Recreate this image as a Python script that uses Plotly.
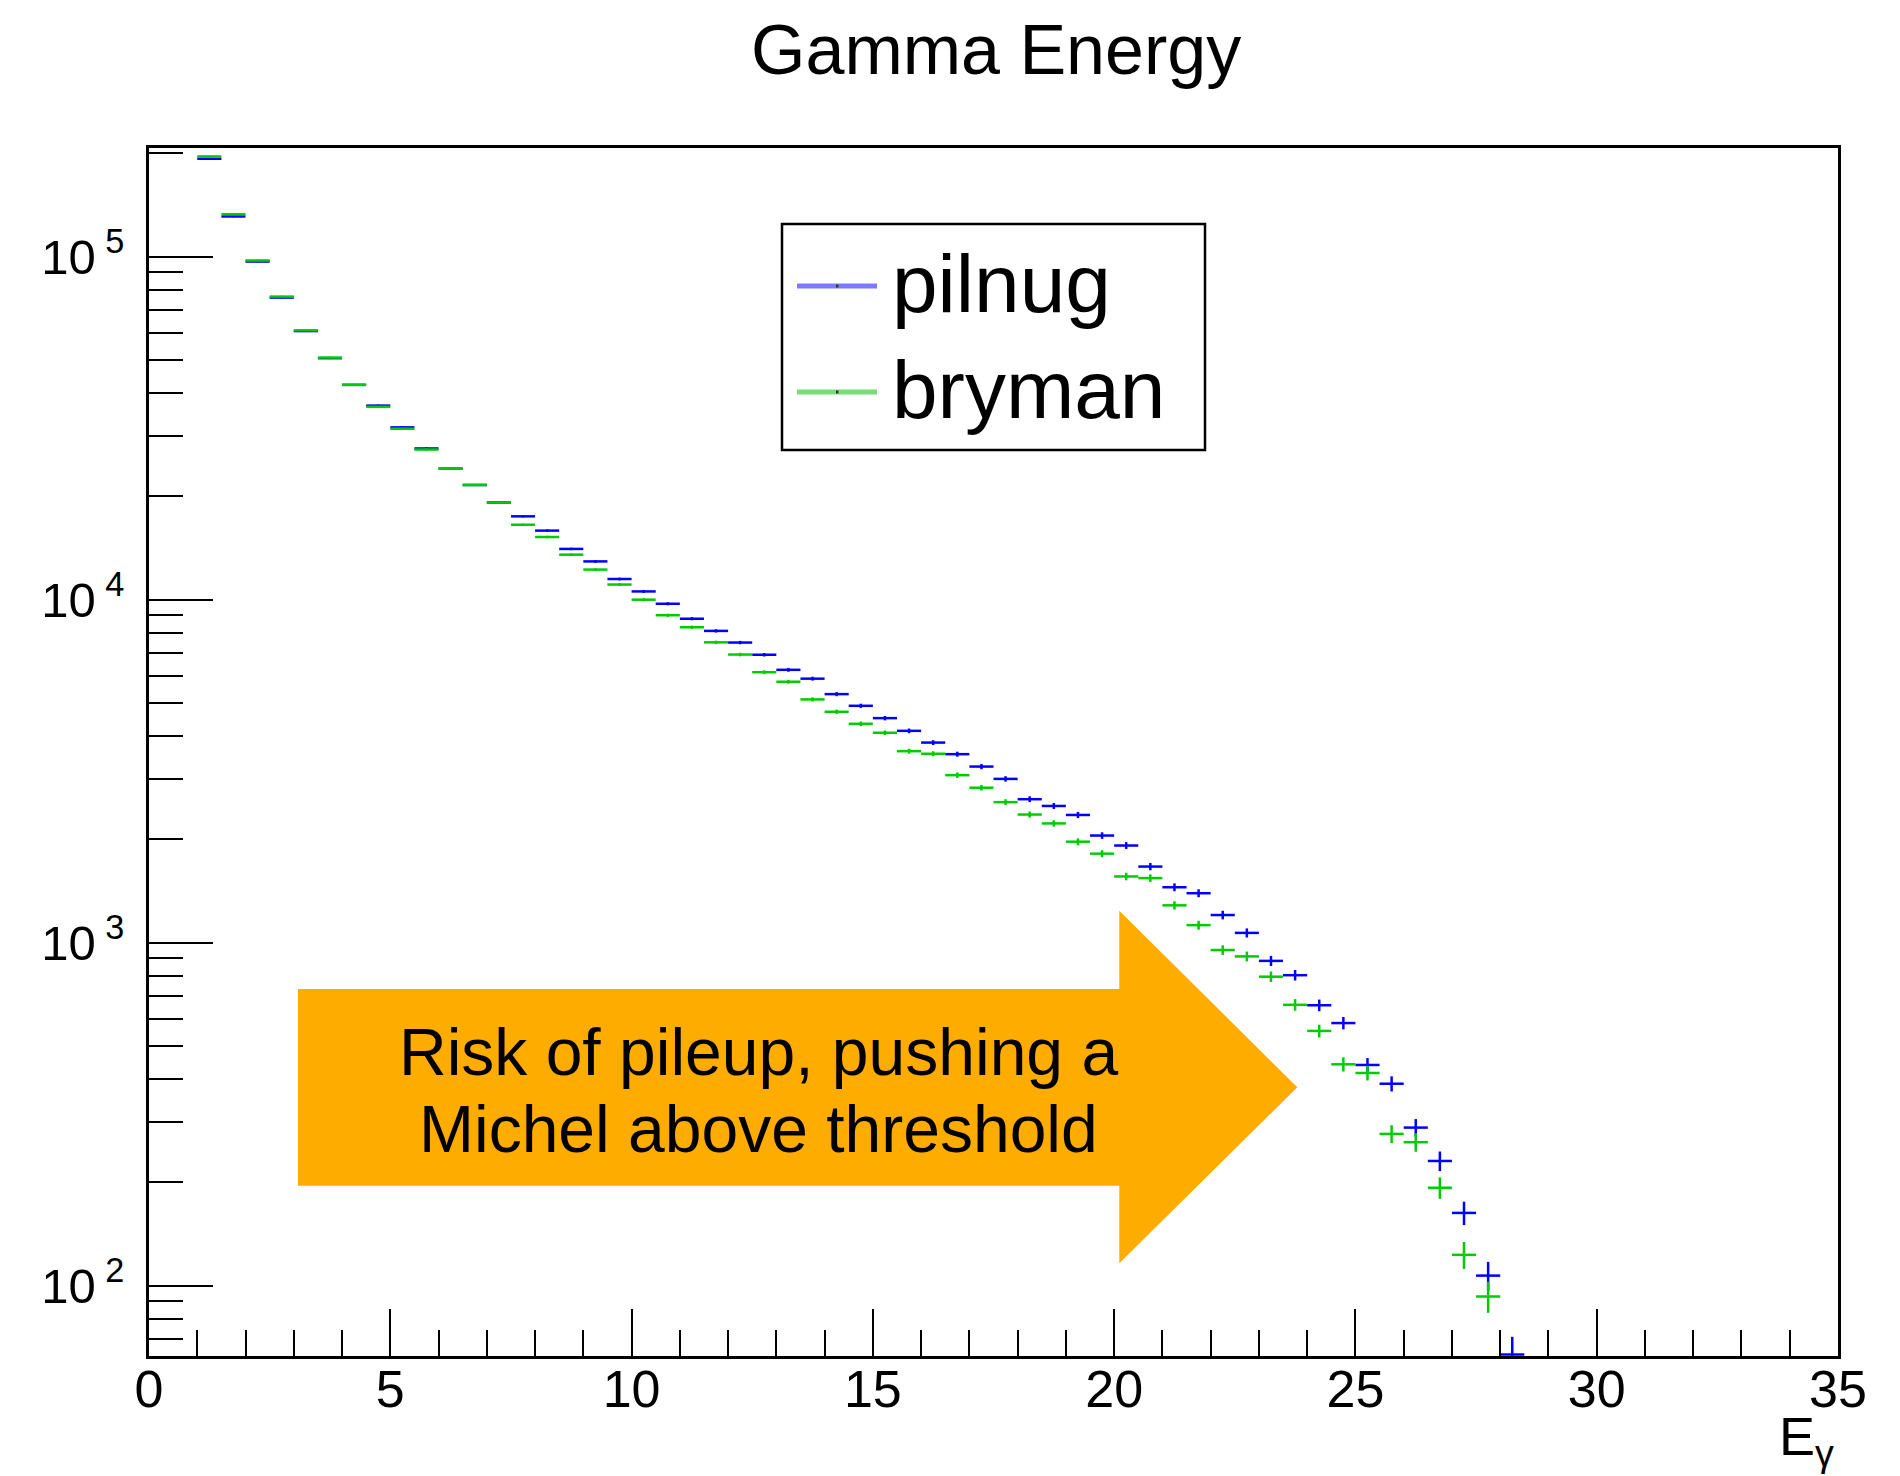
import plotly.graph_objects as go

# Bin centres (bin width 0.5) and bin contents for the two generators
e_centers = [1.25, 1.75, 2.25, 2.75, 3.25, 3.75, 4.25, 4.75, 5.25, 5.75,
             6.25, 6.75, 7.25, 7.75, 8.25, 8.75, 9.25, 9.75, 10.25, 10.75,
             11.25, 11.75, 12.25, 12.75, 13.25, 13.75, 14.25, 14.75, 15.25, 15.75,
             16.25, 16.75, 17.25, 17.75, 18.25, 18.75, 19.25, 19.75, 20.25, 20.75,
             21.25, 21.75, 22.25, 22.75, 23.25, 23.75, 24.25, 24.75, 25.25, 25.75,
             26.25, 26.75, 27.25, 27.75, 28.25]

pilnug = [193000, 131000, 96800, 76000, 60700, 50600, 42300, 36800, 31800, 27600,
          24100, 21600, 19200, 17500, 15900, 14060, 12930, 11490, 10570, 9730,
          8800, 8110, 7500, 6910, 6245, 5885, 5305, 4905, 4515, 4146,
          3832, 3545, 3262, 3003, 2620, 2504, 2357, 2053, 1920, 1667,
          1451, 1394, 1204, 1068, 885, 804, 657, 583, 440, 388,
          289, 231, 163, 107, 63]

bryman = [196000, 133000, 97500, 76500, 61000, 50800, 42300, 36500, 31500, 27400,
          24100, 21600, 19200, 16540, 15230, 13530, 12240, 11070, 10000, 9010,
          8310, 7510, 6920, 6145, 5765, 5120, 4712, 4347, 4093, 3617,
          3555, 3079, 2830, 2569, 2364, 2227, 1970, 1818, 1560, 1543,
          1285, 1125, 952, 912, 796, 659, 553, 442, 417, 277,
          262, 193, 123, 93]

series_names = ["pilnug", "bryman"]
series_colors = ["#0000ff", "#00cc00"]
legend_colors = ["#7b7bff", "#77dd77"]

x_ticks = [0, 5, 10, 15, 20, 25, 30, 35]
y_ticks = [100, 1000, 10000, 100000]
y_ticktext = ["10<sup> 2</sup>", "10<sup> 3</sup>", "10<sup> 4</sup>", "10<sup> 5</sup>"]
y_minor = [70, 80, 90] + [m * 10 ** k for k in (2, 3, 4) for m in range(2, 10)] + [200000]

half_bin = 0.25
FONT = "Liberation Sans, Arial, Helvetica, sans-serif"

# page geometry (pixels) and helpers mapping pixels to paper coordinates
W, H = 1900, 1476
L, R, T, B = 149, 1838, 148, 1356


def fx(px):
    return (px - L) / (R - L)


def fy(py):
    return (B - py) / (B - T)


fig = go.Figure()

for name, vals, col in zip(series_names, [pilnug, bryman], series_colors):
    n = len(vals)
    xs = e_centers[:n]
    errs = [v ** 0.5 for v in vals]
    fig.add_trace(go.Scatter(
        x=xs, y=vals, name=name, mode="markers",
        marker=dict(size=2, color=col),
        error_x=dict(type="data", array=[half_bin] * n, width=0, thickness=2.5, color=col),
        error_y=dict(type="data", array=errs, width=0, thickness=2.5, color=col),
        showlegend=False,
    ))

fig.update_xaxes(
    range=[0, 35], tickmode="array", tickvals=x_ticks,
    ticks="inside", ticklen=47, tickwidth=2.2, tickcolor="black",
    minor=dict(ticks="inside", dtick=1, tick0=0, ticklen=26, tickwidth=2.2, tickcolor="black"),
    showline=True, linecolor="black", linewidth=2.5, mirror=True,
    showgrid=False, zeroline=False,
    tickfont=dict(family=FONT, size=52, color="black"),
    ticklabelstandoff=-14,
)
fig.update_yaxes(
    type="log", range=[1.795, 5.3169], tickmode="array",
    tickvals=y_ticks, ticktext=y_ticktext,
    ticks="inside", ticklen=64, tickwidth=2.2, tickcolor="black",
    minor=dict(ticks="inside", tickmode="array", tickvals=y_minor, ticklen=34,
               tickwidth=2.2, tickcolor="black"),
    showline=True, linecolor="black", linewidth=2.5, mirror=True,
    showgrid=False, zeroline=False,
    tickfont=dict(family=FONT, size=49, color="black"),
    ticklabelstandoff=12,
)

shapes = []
annotations = []

# orange arrow
arrow_pts = [(298, 989), (1119.3, 989), (1119.3, 910.7), (1297.3, 1087.3),
             (1119.3, 1263.3), (1119.3, 1185.7), (298, 1185.7)]
path = "M " + " L ".join(f"{fx(px):.5f},{fy(py):.5f}" for px, py in arrow_pts) + " Z"
shapes.append(dict(type="path", xref="paper", yref="paper", path=path,
                   fillcolor="#fead00", line=dict(width=0), layer="above"))

annotations.append(dict(text="Risk of pileup, pushing a", x=fx(758), y=fy(1052),
                        xref="paper", yref="paper", xanchor="center", yanchor="middle",
                        showarrow=False, font=dict(family=FONT, size=66, color="black")))
annotations.append(dict(text="Michel above threshold", x=fx(758), y=fy(1129),
                        xref="paper", yref="paper", xanchor="center", yanchor="middle",
                        showarrow=False, font=dict(family=FONT, size=66, color="black")))

# legend box
shapes.append(dict(type="rect", xref="paper", yref="paper",
                   x0=fx(782), x1=fx(1205), y0=fy(450), y1=fy(224),
                   fillcolor="white", line=dict(color="black", width=2.5), layer="above"))
for name, lcol, ly in zip(series_names, legend_colors, [286, 392]):
    shapes.append(dict(type="line", xref="paper", yref="paper",
                       x0=fx(797), x1=fx(877), y0=fy(ly), y1=fy(ly),
                       line=dict(color=lcol, width=5), layer="above"))
    shapes.append(dict(type="rect", xref="paper", yref="paper",
                       x0=fx(836), x1=fx(838.5), y0=fy(ly + 1.5), y1=fy(ly - 1.5),
                       fillcolor="#333333", line=dict(width=0), layer="above"))
    annotations.append(dict(text=name, x=fx(890), y=fy(ly - 3),
                            xref="paper", yref="paper", xanchor="left", yanchor="middle",
                            showarrow=False, font=dict(family=FONT, size=82, color="black")))

# title and x-axis label
annotations.append(dict(text="Gamma Energy", x=fx(996), y=fy(50),
                        xref="paper", yref="paper", xanchor="center", yanchor="middle",
                        showarrow=False, font=dict(family=FONT, size=70, color="black")))
annotations.append(dict(text="E<sub>γ</sub>", x=fx(1836), y=fy(1440),
                        xref="paper", yref="paper", xanchor="right", yanchor="middle",
                        showarrow=False, font=dict(family=FONT, size=54, color="black")))

fig.update_layout(
    width=W, height=H,
    margin=dict(l=L, r=W - R, t=T, b=H - B, autoexpand=False),
    paper_bgcolor="white", plot_bgcolor="white",
    showlegend=False,
    shapes=shapes, annotations=annotations,
)

fig.write_html("out.html")
